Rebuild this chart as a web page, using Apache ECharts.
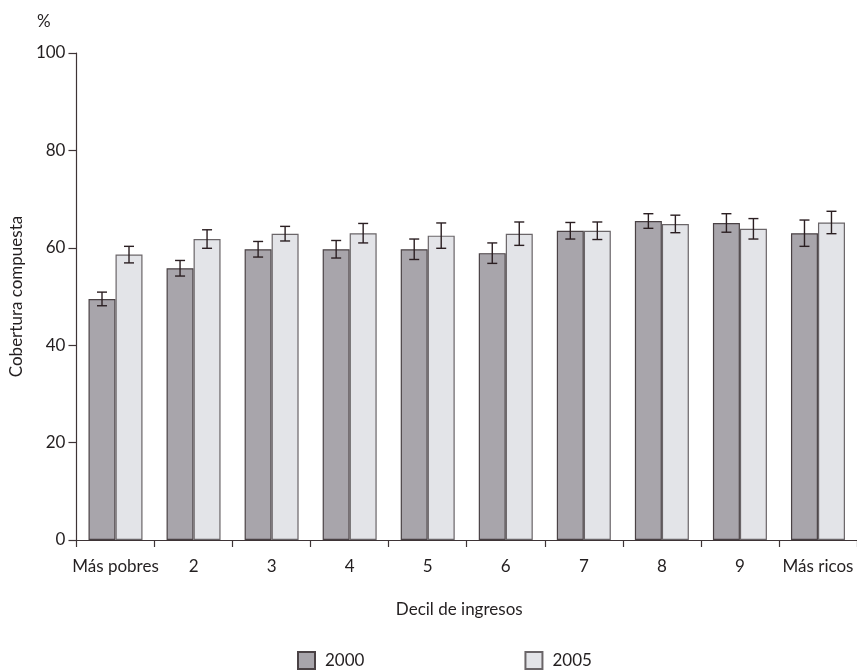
<!DOCTYPE html>
<html>
<head>
<meta charset="utf-8">
<script src="https://cdn.jsdelivr.net/npm/echarts@6/dist/echarts.min.js"></script>
<style>
html,body{margin:0;padding:0;background:#fff;}
#chart{width:857px;height:671px;}
</style>
</head>
<body>
<div id="chart"></div>
<script>
var categories = ['Más pobres', '2', '3', '4', '5', '6', '7', '8', '9', 'Más ricos'];
var values2000 = [49.5, 55.8, 59.7, 59.7, 59.7, 58.9, 63.5, 65.5, 65.1, 63.0];
var errors2000 = [1.4, 1.6, 1.6, 1.8, 2.1, 2.1, 1.7, 1.5, 1.9, 2.7];
var values2005 = [58.6, 61.8, 62.9, 63.0, 62.5, 62.9, 63.5, 64.9, 63.9, 65.2];
var errors2005 = [1.7, 1.9, 1.5, 2.0, 2.6, 2.4, 1.8, 1.8, 2.1, 2.3];
var yTicks = [0, 20, 40, 60, 80, 100];

var FONT = 'Lato';
var TEXT = '#231f20';
var AXIS = '#3e3436';
var BAR_W = 27;

function errData(vals, errs) {
  return vals.map(function (v, i) { return [i, v - errs[i], v + errs[i]]; });
}
function errRender(offsetSign) {
  return function (params, api) {
    var i = api.value(0);
    var lo = api.coord([i, api.value(1)]);
    var hi = api.coord([i, api.value(2)]);
    var x = lo[0] + offsetSign * BAR_W / 2;
    var cap = 5;
    var st = { stroke: '#2b1f22', lineWidth: 1.4 };
    return {
      type: 'group',
      children: [
        { type: 'line', shape: { x1: x, y1: lo[1], x2: x, y2: hi[1] }, style: st },
        { type: 'line', shape: { x1: x - cap, y1: lo[1], x2: x + cap, y2: lo[1] }, style: st },
        { type: 'line', shape: { x1: x - cap, y1: hi[1], x2: x + cap, y2: hi[1] }, style: st }
      ]
    };
  };
}

var chart = echarts.init(document.getElementById('chart'));
chart.setOption({
  animation: false,
  backgroundColor: '#ffffff',
  textStyle: { fontFamily: FONT, color: TEXT },
  grid: { left: 74, right: -4, top: 53, bottom: 131, containLabel: false },
  graphic: [
    { type: 'text', left: 37, top: 13, style: { text: '%', font: '17px ' + FONT, fill: TEXT } }
  ],
  legend: {
    left: 292, top: 646,
    icon: 'rect',
    itemWidth: 17, itemHeight: 17, itemGap: 160,
    data: ['2000', '2005'],
    textStyle: { fontFamily: FONT, fontSize: 17, color: TEXT, padding: [0, 0, 0, 5] }
  },
  xAxis: {
    type: 'category',
    data: categories,
    name: 'Decil de ingresos',
    nameLocation: 'middle',
    nameGap: 61,
    nameTextStyle: { fontFamily: FONT, fontSize: 17, color: TEXT, padding: [0, 15, 0, 0] },
    axisLine: { lineStyle: { color: AXIS, width: 1.2 } },
    axisTick: { show: true, length: 7, interval: 0, lineStyle: { color: AXIS, width: 1.2 } },
    axisLabel: { interval: 0, margin: 18, fontFamily: FONT, fontSize: 17, color: TEXT },
    splitLine: { show: false }
  },
  yAxis: {
    type: 'value',
    min: yTicks[0], max: yTicks[yTicks.length - 1], interval: 20,
    name: 'Cobertura compuesta',
    nameLocation: 'middle',
    nameGap: 48,
    nameTextStyle: { fontFamily: FONT, fontSize: 17, color: TEXT },
    axisLine: { show: true, lineStyle: { color: AXIS, width: 1.2 } },
    axisTick: { show: true, length: 8, lineStyle: { color: AXIS, width: 1.2 } },
    axisLabel: { margin: 11, fontFamily: FONT, fontSize: 17, color: TEXT },
    splitLine: { show: false }
  },
  series: [
    {
      name: '2000', type: 'bar', data: values2000, barWidth: BAR_W, barGap: '0%',
      itemStyle: { color: '#a8a5ab', borderColor: '#4a4245', borderWidth: 1.2 }
    },
    {
      name: '2005', type: 'bar', data: values2005, barWidth: BAR_W, barGap: '0%',
      itemStyle: { color: '#e3e4e8', borderColor: '#6a6568', borderWidth: 1.2 }
    },
    {
      name: 'err2000', type: 'custom', data: errData(values2000, errors2000),
      renderItem: errRender(-1), z: 5, encode: { x: 0, y: [1, 2] }
    },
    {
      name: 'err2005', type: 'custom', data: errData(values2005, errors2005),
      renderItem: errRender(1), z: 5, encode: { x: 0, y: [1, 2] }
    }
  ]
});
</script>
</body>
</html>
